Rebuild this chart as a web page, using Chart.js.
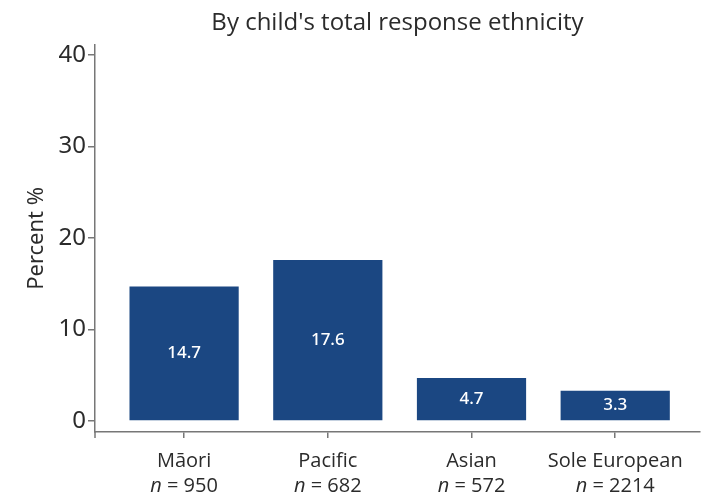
<!DOCTYPE html>
<html>
<head>
<meta charset="utf-8">
<script src="https://cdn.jsdelivr.net/npm/chart.js@4"></script>
<style>
  html, body { margin: 0; padding: 0; background: #fff; }
  #wrap { width: 704px; height: 495px; }
</style>
</head>
<body>
<div id="wrap"><canvas id="myChart" width="704" height="495"></canvas></div>
<script>
"use strict";

const categories = ["Māori", "Pacific", "Asian", "Sole European"],
  sampleSizes = [950, 682, 572, 2214],
  percents = [14.7, 17.6, 4.7, 3.3],
  yTicks = [0, 10, 20, 30, 40];

const axisColor = "#777",
  textColor = "#2b2b2b",
  barColor = "#1b4782";

// draws value inside bars and the two-line category labels
const labelPlugin = {
  id: "labels",
  afterDatasetsDraw(chart) {
    const ctx = chart.ctx;
    ctx.save();
    ctx.fillStyle = "#fff";
    ctx.font = "500 17px 'Noto Sans'";
    ctx.textAlign = "center";
    ctx.textBaseline = "middle";
    chart.getDatasetMeta(0).data.forEach((bar, i) => {
      ctx.fillText(percents[i].toFixed(1), bar.x, (bar.y + bar.base) / 2);
    });
    ctx.restore();
  },
  afterDraw(chart) {
    const ctx = chart.ctx,
      xs = chart.scales.x;
    ctx.save();
    ctx.fillStyle = textColor;
    ctx.textBaseline = "middle";
    categories.forEach((cat, i) => {
      const x = xs.getPixelForValue(i);
      ctx.font = "20px 'Open Sans'";
      ctx.textAlign = "center";
      ctx.fillText(cat, x, xs.top + 29);
      // "n = 950" with italic n
      const rest = " = " + sampleSizes[i];
      ctx.font = "italic 20px 'Open Sans'";
      const wn = ctx.measureText("n").width;
      ctx.font = "20px 'Open Sans'";
      const wr = ctx.measureText(rest).width;
      let start = x - (wn + wr) / 2;
      ctx.textAlign = "left";
      ctx.font = "italic 20px 'Open Sans'";
      ctx.fillText("n", start, xs.top + 54);
      ctx.font = "20px 'Open Sans'";
      ctx.fillText(rest, start + wn, xs.top + 54);
    });
    // y axis line runs a little past the x axis
    const area = chart.chartArea;
    ctx.strokeStyle = axisColor;
    ctx.lineWidth = 1.5;
    ctx.beginPath();
    ctx.moveTo(area.left, area.bottom);
    ctx.lineTo(area.left, area.bottom + 6);
    ctx.stroke();
    ctx.restore();
  }
};

function myChart() {
  const ctx = document.getElementById("myChart").getContext("2d");
  new Chart(ctx, {
    type: "bar",
    data: {
      datasets: [{
        data: percents.map((v, i) => ({ x: i, y: v })),
        backgroundColor: barColor,
        categoryPercentage: 1,
        barPercentage: 0.76
      }]
    },
    plugins: [labelPlugin],
    options: {
      responsive: false,
      animation: false,
      layout: { padding: { left: 0, right: 4, top: 0, bottom: 0 } },
      plugins: {
        legend: { display: false },
        tooltip: { enabled: false },
        title: {
          display: true,
          text: "By child's total response ethnicity",
          color: textColor,
          fullSize: false,
          font: { family: "'Open Sans'", size: 24, weight: "normal" },
          padding: { top: 9, bottom: 7 }
        }
      },
      scales: {
        x: {
          type: "linear",
          offset: false,
          min: -0.62,
          max: 3.59,
          afterBuildTicks: (scale) => {
            scale.ticks = categories.map((c, i) => ({ value: i }));
          },
          afterFit: (scale) => { scale.height = 63; },
          ticks: { callback: () => "", padding: 0 },
          grid: {
            drawOnChartArea: false,
            offset: false,
            color: axisColor,
            lineWidth: 1.5,
            tickLength: 6
          },
          border: { color: axisColor, width: 1.5 }
        },
        y: {
          min: -1.2,
          max: 41.1,
          afterBuildTicks: (scale) => {
            scale.ticks = yTicks.map((v) => ({ value: v }));
          },
          afterFit: (scale) => { scale.width = 95; },
          ticks: {
            color: textColor,
            font: { family: "'Noto Sans'", size: 24 },
            padding: 2
          },
          grid: {
            drawOnChartArea: false,
            color: axisColor,
            lineWidth: 1.5,
            tickLength: 7
          },
          border: { color: axisColor, width: 1.5 },
          title: {
            display: true,
            text: "Percent %",
            color: textColor,
            font: { family: "'Noto Sans'", size: 22 },
            padding: { top: 24, bottom: 0 }
          }
        }
      }
    }
  });
}

myChart();
</script>
</body>
</html>
